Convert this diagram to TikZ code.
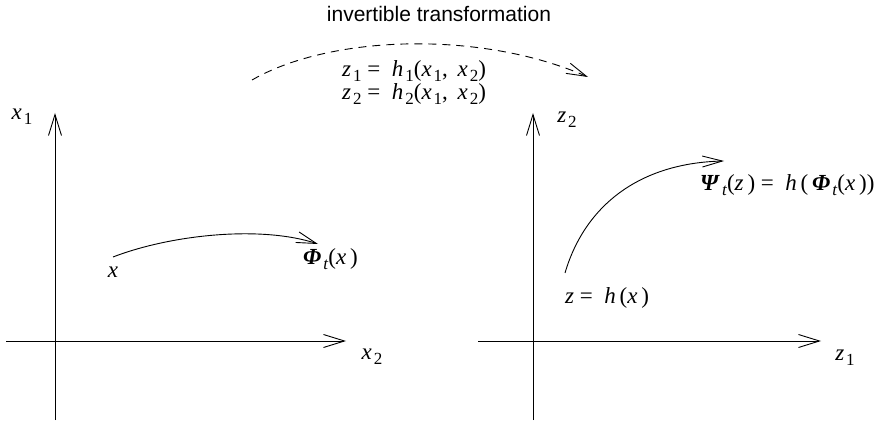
\documentclass[tikz,border=0pt]{standalone}
\usepackage{fontspec}
\setmainfont{Liberation Serif}
\setsansfont{Liberation Sans}
\usetikzlibrary{arrows.meta}
\newcommand\lo[1]{\raisebox{-5pt}{\fontsize{17}{17}\selectfont\kern2pt#1}}
\newcommand\vi[1]{\textit{#1}}
\newcommand\bv[1]{\textbf{\textit{#1}}}
\begin{document}
\begin{tikzpicture}[x=1pt,y=-1pt,
  ln/.style={line width=0.9pt},
  ax/.style={ln,-{Straight Barb[length=21pt,width=13pt,line width=0.9pt]}},
  cv/.style={ln,-{Straight Barb[length=20pt,width=11pt,line width=0.9pt]}},
  lbl/.style={inner sep=0pt, font=\fontsize{23}{27}\selectfont},
  ttl/.style={inner sep=0pt, font=\sffamily\fontsize{21}{25}\selectfont}]
\useasboundingbox (0,0) rectangle (879,422);
% left axes
\coordinate (lvb) at (55,420);
\coordinate (lvt) at (55,113);
\coordinate (lhl) at (6,341);
\coordinate (lhr) at (346,341);
\draw[ax] (lvb) -- (lvt);
\draw[ax] (lhl) -- (lhr);
% right axes
\coordinate (rvb) at (533,420);
\coordinate (rvt) at (533,113);
\coordinate (rhl) at (478,341);
\coordinate (rhr) at (821,341);
\draw[ax] (rvb) -- (rvt);
\draw[ax] (rhl) -- (rhr);
% labels
\node[ttl] (title) at (439,14) {invertible transformation};
\node[lbl,anchor=west] (eq1) at (342,71) {\vi{z}\lo{1} =\ \ \vi{h}\lo{1}(\vi{x}\lo{1},\, \vi{x}\lo{2})};
\node[lbl,anchor=west] (eq2) at (342,94) {\vi{z}\lo{2} =\ \ \vi{h}\lo{2}(\vi{x}\lo{1},\, \vi{x}\lo{2})};
\node[lbl] (lx1) at (22,117) {\vi{x}\lo{1}};
\node[lbl] (lx2) at (372,357) {\vi{x}\lo{2}};
\node[lbl] (lz2) at (567,120) {\vi{z}\lo{2}};
\node[lbl] (lz1) at (845,358) {\vi{z}\lo{1}};
\node[lbl] (px) at (113,272) {\vi{x}};
\node[lbl,anchor=west] (phi) at (303,259) {\bv{Φ}\lo{\vi{t}}(\vi{x}\,)};
\node[lbl,anchor=west] (pz) at (565,298) {\vi{z} =\ \ \vi{h}\,(\vi{x}\,)};
\node[lbl,anchor=west] (psi) at (700,185) {\bv{Ψ}\lo{\vi{t}}(\vi{z}\,) =\ \ \vi{h}\,(\,\bv{Φ}\lo{\vi{t}}(\vi{x}\,))};
% flows
\coordinate (a0) at (113,257);
\coordinate (a1) at (318,244);
\draw[cv] (a0) .. controls (170,235) and (260,225) .. (a1);
\coordinate (b0) at (565,273);
\coordinate (b1) at (724,161);
\draw[cv] (b0) .. controls (585,205) and (640,163) .. (b1);
\coordinate (d0) at (252,80);
\coordinate (d1) at (588,77);
\draw[cv,dash pattern=on 8pt off 6pt] (d0) .. controls (330,35) and (480,30) .. (d1);
\end{tikzpicture}
\end{document}
